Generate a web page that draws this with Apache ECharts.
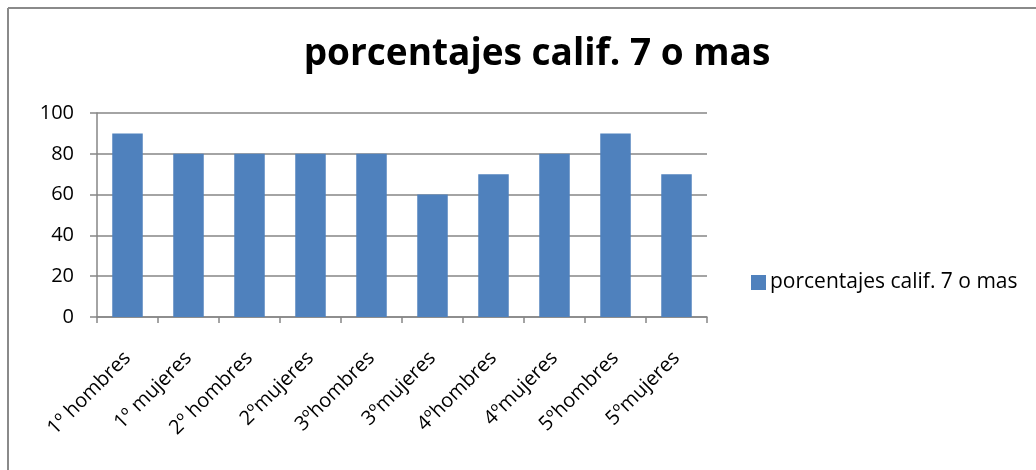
<!DOCTYPE html>
<html><head><meta charset="utf-8">
<script src="https://cdn.jsdelivr.net/npm/echarts@6/dist/echarts.min.js"></script>
<style>html,body{margin:0;padding:0;background:#fff}#c{width:1036px;height:470px}</style>
</head><body><div id="c"></div>
<script>
const categories = ["1º hombres","1º mujeres","2º hombres","2ºmujeres","3ºhombres","3ºmujeres","4ºhombres","4ºmujeres","5ºhombres","5ºmujeres"];
const values = [90,80,80,80,80,60,70,80,90,70];
const seriesName = "porcentajes calif. 7 o mas";
const titleText = "porcentajes calif. 7 o mas";
const yTicks = [0,20,40,60,80,100];

const font = "Open Sans, Lato, sans-serif";
const chart = echarts.init(document.getElementById('c'), null, {renderer:'canvas'});
chart.setOption({
  animation:false,
  backgroundColor:'#fff',
  title:{text:titleText,left:532,textAlign:'center',top:31,
    textStyle:{fontFamily:font,fontWeight:'bold',fontSize:37,color:'#000'}},
  legend:{data:[seriesName],left:746,top:267,itemWidth:15,itemHeight:15,itemGap:5,
    textStyle:{fontFamily:font,fontSize:21,color:'#000',padding:[0,0,0,-1]},icon:'rect'},
  grid:{left:97,right:329,top:113,bottom:153,containLabel:false},
  xAxis:{type:'category',data:categories,
    axisLine:{lineStyle:{color:'#868686',width:1.5}},
    axisTick:{show:true,alignWithLabel:false,length:6,lineStyle:{color:'#868686',width:1.5}},
    axisLabel:{rotate:45,interval:0,margin:38,fontFamily:font,fontSize:20,color:'#000'}},
  yAxis:{type:'value',min:0,max:100,interval:20,
    axisLine:{show:true,lineStyle:{color:'#868686',width:1.5}},
    axisTick:{show:true,length:7,lineStyle:{color:'#868686',width:1.5}},
    splitLine:{lineStyle:{color:'#868686',width:1.5}},
    axisLabel:{margin:23,fontFamily:font,fontSize:20,color:'#000',
      formatter:v=>yTicks.includes(v)?String(v):''}},
  series:[{name:seriesName,type:'bar',data:values,barCategoryGap:'50%',
    itemStyle:{color:'#4F81BD'}}],
  graphic:[
    {type:'line',shape:{x1:8,y1:8,x2:1036,y2:8},style:{stroke:'#8a8a8a',lineWidth:2}},
    {type:'line',shape:{x1:8,y1:8,x2:8,y2:470},style:{stroke:'#8a8a8a',lineWidth:2}}
  ]
});
</script></body></html>
